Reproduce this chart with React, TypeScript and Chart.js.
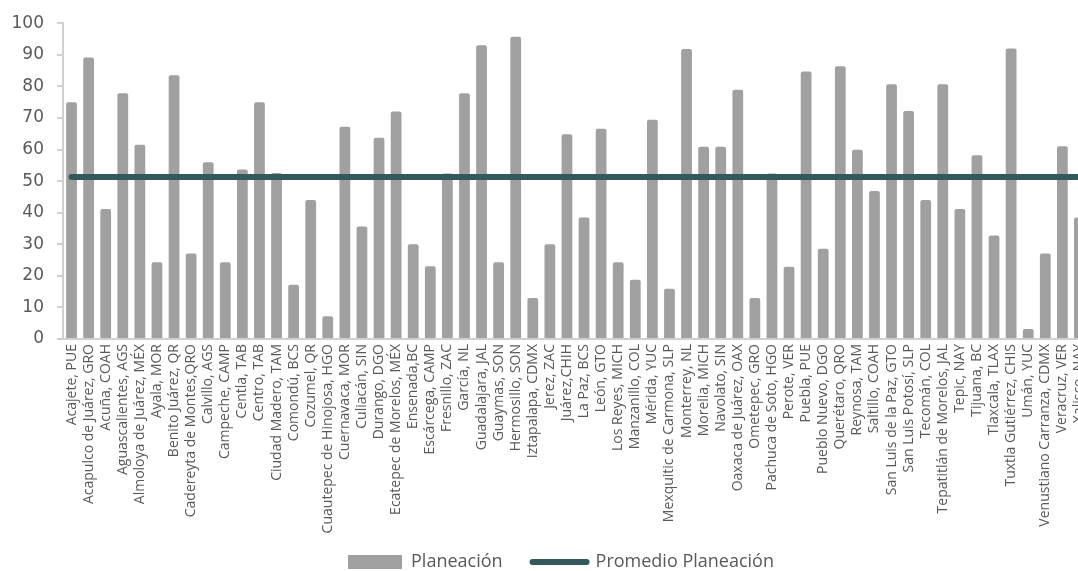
import React, { useEffect, useRef } from "react";
import { Chart, registerables } from "chart.js";

Chart.register(...registerables);

const categories: string[] = [
  "Acajete, PUE", "Acapulco de Juárez, GRO", "Acuña, COAH", "Aguascalientes, AGS", "Almoloya de Juárez, MÉX",
  "Ayala, MOR", "Benito Juárez, QR", "Cadereyta de Montes,QRO", "Calvillo, AGS", "Campeche, CAMP",
  "Centla, TAB", "Centro, TAB", "Ciudad Madero, TAM", "Comondú, BCS", "Cozumel, QR",
  "Cuautepec de Hinojosa, HGO", "Cuernavaca, MOR", "Culiacán, SIN", "Durango, DGO", "Ecatepec de Morelos, MÉX",
  "Ensenada,BC", "Escárcega, CAMP", "Fresnillo, ZAC", "García, NL", "Guadalajara, JAL",
  "Guaymas, SON", "Hermosillo, SON", "Iztapalapa, CDMX", "Jerez, ZAC", "Juárez,CHIH",
  "La Paz, BCS", "León, GTO", "Los Reyes, MICH", "Manzanillo, COL", "Mérida, YUC",
  "Mexquitic de Carmona, SLP", "Monterrey, NL", "Morelia, MICH", "Navolato, SIN", "Oaxaca de Juárez, OAX",
  "Ometepec, GRO", "Pachuca de Soto, HGO", "Perote, VER", "Puebla, PUE", "Pueblo Nuevo, DGO",
  "Querétaro, QRO", "Reynosa, TAM", "Saltillo, COAH", "San Luis de la Paz, GTO", "San Luis Potosí, SLP",
  "Tecomán, COL", "Tepatitlán de Morelos, JAL", "Tepic, NAY", "Tijuana, BC", "Tlaxcala, TLAX",
  "Tuxtla Gutiérrez, CHIS", "Umán, YUC", "Venustiano Carranza, CDMX", "Veracruz, VER", "Xalisco, NAY",
];

const planeacion: number[] = [
  75, 89.1, 41.2, 77.8, 61.5, 24.3, 83.5, 27.1, 56, 24.3,
  53.7, 75, 52.6, 17.2, 44, 7.2, 67.2, 35.6, 63.7, 72,
  30, 23, 52.4, 77.8, 93, 24.3, 95.7, 13, 30, 64.8,
  38.5, 66.6, 24.3, 18.8, 69.4, 15.9, 91.8, 60.9, 60.9, 78.9,
  13, 52.4, 22.9, 84.7, 28.6, 86.4, 59.9, 46.9, 80.7, 72.2,
  44, 80.7, 41.2, 58.2, 32.8, 92, 3.2, 27.1, 61, 38.5,
];

const promedioPlaneacion = 51.3;
const promedioSerie: number[] = categories.map(() => promedioPlaneacion);

const yTicks = { min: 0, max: 100, step: 10 };

const seriesLabels = ["Planeación", "Promedio Planeación"];

const legendShift = {
  id: "legendShift",
  afterLayout(chart: any) {
    if (chart.legend) {
      chart.legend.left += 17;
      chart.legend.right += 17;
    }
  },
};

export default function App() {
  const ref = useRef<HTMLCanvasElement | null>(null);

  useEffect(() => {
    if (!ref.current) return;
    const axisColor = "#d0d0d0";
    const textColor = "#595959";
    const chart = new Chart(ref.current, {
      type: "bar",
      data: {
        labels: categories,
        datasets: [
          {
            type: "bar",
            label: seriesLabels[0],
            data: planeacion,
            backgroundColor: "#a0a0a0",
            borderWidth: 0,
            borderRadius: 2,
            barPercentage: 0.63,
            categoryPercentage: 1,
            order: 1,
          } as any,
          {
            type: "line",
            label: seriesLabels[1],
            data: promedioSerie,
            borderColor: "#33595b",
            backgroundColor: "#33595b",
            borderWidth: 6,
            borderCapStyle: "round",
            pointRadius: 0,
            pointHoverRadius: 0,
            pointStyle: "line",
            order: 0,
          } as any,
        ],
      },
      options: {
        responsive: false,
        animation: false,
        layout: { padding: { top: 23, left: 0, right: 2, bottom: 0 } },
        plugins: {
          tooltip: { enabled: false },
          legend: {
            position: "bottom",
            labels: {
              usePointStyle: true,
              pointStyleWidth: 54,
              boxWidth: 54,
              boxHeight: 14,
              padding: 30,
              color: textColor,
              font: { family: "'Open Sans', sans-serif", size: 18 },
              sort: (a: any, b: any) => a.datasetIndex - b.datasetIndex,
              generateLabels: (c: any) => {
                const items = (Chart as any).defaults.plugins.legend.labels.generateLabels(c);
                items.forEach((it: any) => {
                  if (it.datasetIndex === 0) {
                    it.pointStyle = "rect";
                    it.lineWidth = 0;
                    it.fillStyle = "#a0a0a0";
                  } else {
                    it.pointStyle = "line";
                    it.lineWidth = 6;
                    it.strokeStyle = "#33595b";
                    it.lineCap = "round";
                  }
                });
                return items;
              },
            },
          },
        },
        scales: {
          x: {
            offset: true,
            ticks: {
              autoSkip: false,
              maxRotation: 90,
              minRotation: 90,
              color: textColor,
              padding: 5,
              font: { family: "'Open Sans', sans-serif", size: 14 },
            },
            grid: { display: false, drawTicks: false },
            border: { display: true, color: axisColor, width: 2 },
            afterFit: (s: any) => {
              s.height = 184;
              s.paddingLeft = 0;
              s.paddingRight = 0;
              s._computeLabelArea = () => undefined;
            },
          },
          y: {
            min: yTicks.min,
            max: yTicks.max,
            ticks: {
              stepSize: yTicks.step,
              color: textColor,
              padding: 13,
              font: { family: "'DejaVu Sans', sans-serif", size: 17 },
            },
            grid: { drawOnChartArea: false, drawTicks: true, tickLength: 6, color: axisColor, lineWidth: 2 },
            border: { display: true, color: axisColor, width: 2 },
            afterFit: (s: any) => {
              s.width = 63;
            },
          },
        },
      },
      plugins: [legendShift],
    });
    return () => chart.destroy();
  }, []);

  return (
    <div style={{ position: "fixed", left: 0, top: 0, width: 1078, height: 571, overflow: "hidden", background: "#fff" }}>
      <canvas ref={ref} width={1090} height={581} style={{ display: "block" }} />
    </div>
  );
}
